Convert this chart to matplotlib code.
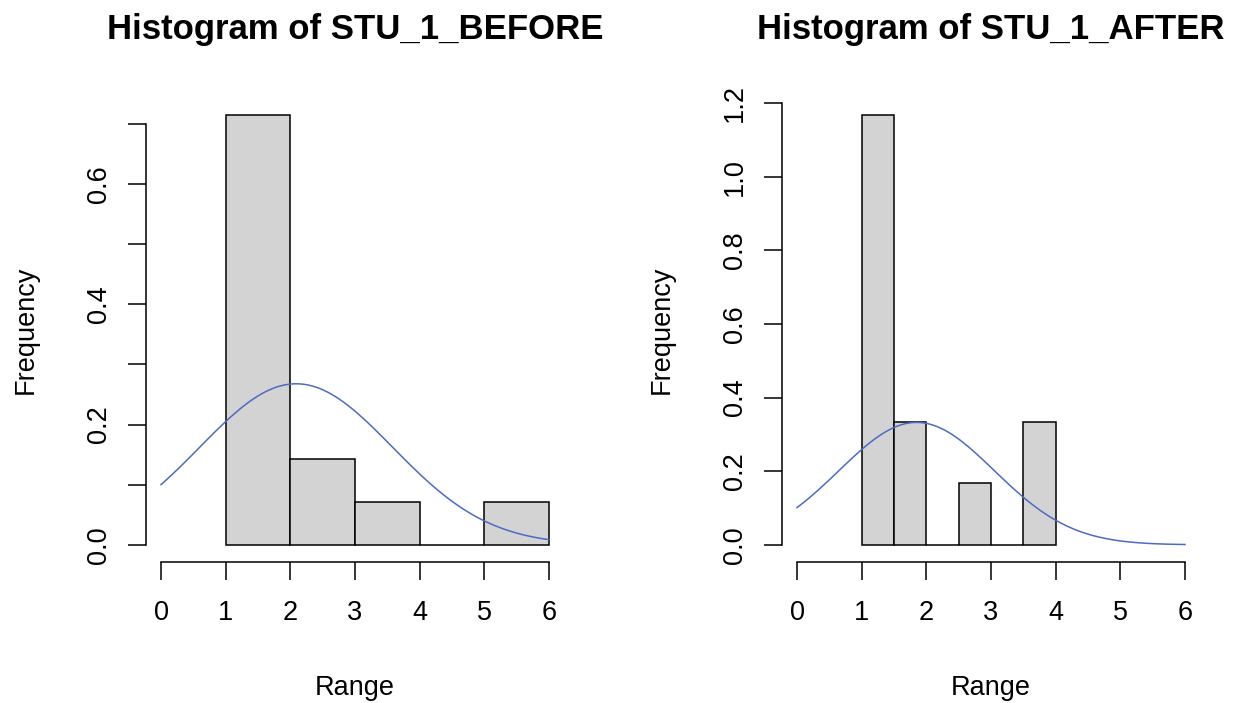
import numpy as np
import matplotlib
matplotlib.use("Agg")
import matplotlib.pyplot as plt

plt.rcParams['font.family'] = ['Liberation Sans', 'DejaVu Sans']

# ---- data ----
before_breaks = [1, 2, 3, 4, 5, 6]
before_density = [0.7143, 0.1429, 0.0714, 0.0, 0.0714]
before_mean, before_sd = 2.09, 1.49

after_breaks = [1, 1.5, 2, 2.5, 3, 3.5, 4]
after_density = [1.1667, 0.3333, 0.0, 0.1667, 0.0, 0.3333]
after_mean, after_sd = 1.85, 1.20

x_ticks = [0, 1, 2, 3, 4, 5, 6]
before_yticks = [0.0, 0.1, 0.2, 0.3, 0.4, 0.5, 0.6, 0.7]
before_yticklabels = ['0.0', '', '0.2', '', '0.4', '', '0.6', '']
after_yticks = [0.0, 0.2, 0.4, 0.6, 0.8, 1.0, 1.2]
after_yticklabels = ['0.0', '0.2', '0.4', '0.6', '0.8', '1.0', '1.2']

titles = ['Histogram of STU_1_BEFORE', 'Histogram of STU_1_AFTER']

W, H = 1242, 703
fig = plt.figure(figsize=(W / 100, H / 100), dpi=100)

def px_axes(left, top, right, bottom):
    return fig.add_axes([left / W, (H - bottom) / H, (right - left) / W, (bottom - top) / H])

panels = [
    dict(left=145.5, breaks=before_breaks, dens=before_density, mean=before_mean, sd=before_sd,
         yt=before_yticks, ytl=before_yticklabels, title=titles[0]),
    dict(left=781.5, breaks=after_breaks, dens=after_density, mean=after_mean, sd=after_sd,
         yt=after_yticks, ytl=after_yticklabels, title=titles[1]),
]

blue = '#4b6bc4'
for p in panels:
    ax = px_axes(p['left'], 98, p['left'] + 419, 562)
    breaks = np.array(p['breaks'])
    widths = np.diff(breaks)
    ax.bar(breaks[:-1], p['dens'], width=widths, align='edge', color='#d3d3d3',
           edgecolor='black', linewidth=1.1)
    xs = np.linspace(0, 6, 101)
    ys = np.exp(-0.5 * ((xs - p['mean']) / p['sd']) ** 2) / (p['sd'] * np.sqrt(2 * np.pi))
    ax.plot(xs, ys, color=blue, lw=1.1)
    ymax = max(p['dens'])
    ax.set_xlim(-0.24, 6.24)
    ax.set_ylim(-0.04 * ymax, 1.04 * ymax)
    for s in ['top', 'right']:
        ax.spines[s].set_visible(False)
    ax.spines['left'].set_bounds(0, p['yt'][-1])
    ax.spines['bottom'].set_bounds(0, 6)
    for s in ['left', 'bottom']:
        ax.spines[s].set_linewidth(1.1)
    ax.set_xticks(x_ticks)
    ax.set_xticklabels([str(v) for v in x_ticks])
    ax.set_yticks(p['yt'])
    ax.set_yticklabels(p['ytl'], rotation=90, va='center')
    ax.tick_params(axis='both', length=13, width=1.1, labelsize=19.5, colors='black')
    ax.tick_params(axis='x', pad=14.5)
    ax.tick_params(axis='y', pad=11)
    ax.patch.set_visible(False)
    cx = (p['left'] + p['left'] + 419) / 2
    fig.text(cx / W, (H - 39) / H, p['title'], ha='center', va='baseline',
             fontsize=25, fontweight='bold')
    fig.text(cx / W, (H - 695) / H, 'Range', ha='center', va='baseline', fontsize=19.5)
    fig.text((p['left'] - 112.5) / W, (H - 330) / H, 'Frequency', ha='center', va='baseline',
             rotation=90, rotation_mode='anchor', fontsize=19.5)

fig.savefig('out.png', dpi=100)
